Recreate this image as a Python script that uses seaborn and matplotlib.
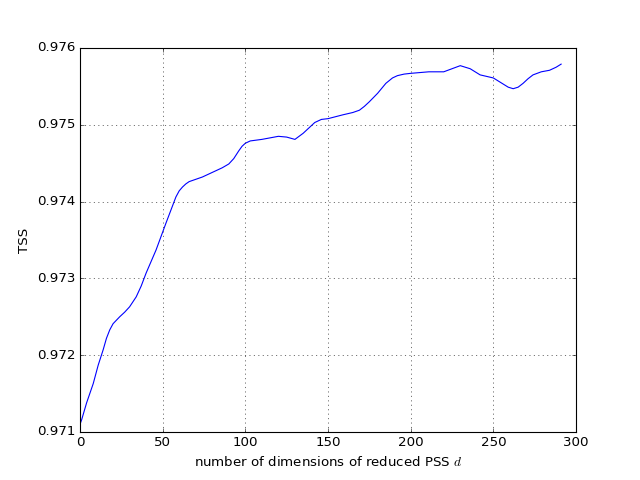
import numpy as np
import matplotlib
matplotlib.use("Agg")
import matplotlib.pyplot as plt
import seaborn as sns

# -- values
dims = [0, 1, 4, 8, 11, 14, 16, 18, 20, 24, 27, 30, 34, 37, 40, 46, 52, 58,
        60, 62, 64, 66, 70, 74, 82, 86, 90, 93, 96, 98, 100, 103, 110, 115,
        120, 125, 130, 135, 142, 146, 150, 159, 165, 169, 172, 175, 180, 185,
        189, 192, 196, 200, 211, 220, 225, 230, 236, 242, 246, 250, 256, 259,
        262, 265, 268, 271, 274, 279, 284, 288, 291]
tss = [0.97110, 0.97116, 0.97138, 0.97163, 0.97187, 0.97207, 0.97222,
       0.97233, 0.97241, 0.97250, 0.97256, 0.97263, 0.97276, 0.97290,
       0.97307, 0.97337, 0.97372, 0.97406, 0.97414, 0.97419, 0.97423,
       0.97426, 0.97429, 0.97432, 0.97440, 0.97444, 0.97449, 0.97456,
       0.97466, 0.97472, 0.97476, 0.97479, 0.97481, 0.97483, 0.97485,
       0.97484, 0.97481, 0.97489, 0.97503, 0.97507, 0.97508, 0.97513,
       0.97516, 0.97519, 0.97524, 0.97530, 0.97541, 0.97554, 0.97561,
       0.97564, 0.97566, 0.97567, 0.97569, 0.97569, 0.97573, 0.97577,
       0.97573, 0.97565, 0.97563, 0.97561, 0.97553, 0.97549, 0.97547,
       0.97549, 0.97554, 0.97560, 0.97565, 0.97569, 0.97571, 0.97575,
       0.97579]

plt.style.use("classic")
fig, ax = plt.subplots(figsize=(8, 6), dpi=80)
fig.patch.set_facecolor("white")
sns.lineplot(x=dims, y=tss, ax=ax, color="b", lw=1.0)
ax.set_xlim(0, 300)
ax.set_ylim(0.971, 0.976)
ax.ticklabel_format(axis="y", useOffset=False)
ax.grid(True)
ax.set_xlabel("number of dimensions of reduced PSS $d$")
ax.set_ylabel("TSS")
fig.savefig("out.png", dpi=80, facecolor="white")
